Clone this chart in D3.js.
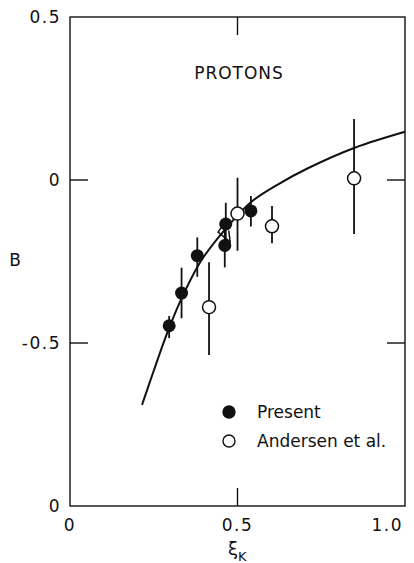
<!DOCTYPE html>
<html>
<head>
<meta charset="utf-8">
<script src="https://cdn.jsdelivr.net/npm/d3@7/dist/d3.min.js"></script>
<style>
  html, body { margin: 0; padding: 0; background: #fff; }
  svg { display: block; }
  text { font-family: "DejaVu Sans", sans-serif; fill: #111; }
</style>
</head>
<body>
<svg id="chart" width="414" height="563"></svg>
<script>
// Present measurements (filled circles)
const presentXi   = [0.296, 0.333, 0.380, 0.465, 0.462, 0.540];
const presentB    = [-0.447, -0.347, -0.232, -0.135, -0.201, -0.095];
const presentLow  = [-0.485, -0.424, -0.297, -0.200, -0.268, -0.143];
const presentHigh = [-0.417, -0.269, -0.176, -0.070, -0.135, -0.049];

// Andersen et al. (open circles)
const andersenXi   = [0.415, 0.500, 0.603, 0.848];
const andersenB    = [-0.390, -0.103, -0.142, 0.005];
const andersenLow  = [-0.537, -0.217, -0.194, -0.166];
const andersenHigh = [-0.252, 0.007, -0.080, 0.187];

// Theoretical curve
const curveXi = [0.215, 0.25, 0.29, 0.33, 0.39, 0.46, 0.54, 0.62, 0.71, 0.85, 1.0];
const curveB  = [-0.69, -0.585, -0.47, -0.37, -0.25, -0.155, -0.068, -0.014, 0.036, 0.099, 0.148];

// Small bracket drawn between the two points near xi = 0.46
const bracketXi = [0.455, 0.442, 0.478, 0.474];
const bracketB  = [-0.140, -0.160, -0.190, -0.155];

// Axis ticks and labels
const yTicks = [0.5, 0, -0.5, -1.0];
const yTickLabels = ["0.5", "0", "-0.5", "0"];
const xTicks = [0, 0.5, 1.0];
const xTickLabels = ["0", "0.5", "1.0"];

const svg = d3.select("#chart");
const plotLeft = 70, plotRight = 405, plotTop = 17, plotBottom = 506;

const x = d3.scaleLinear().domain([0, 1]).range([plotLeft, plotRight]);
const y = d3.scaleLinear().domain([-1, 0.5]).range([plotBottom, plotTop]);

// frame
svg.append("rect")
  .attr("x", plotLeft).attr("y", plotTop)
  .attr("width", plotRight - plotLeft).attr("height", plotBottom - plotTop)
  .attr("fill", "none").attr("stroke", "#111").attr("stroke-width", 1.4);

// inward ticks
const tickLen = 18;
const g = svg.append("g").attr("stroke", "#111").attr("stroke-width", 1.4);
[0, -0.5].forEach(v => {
  g.append("line").attr("x1", x(0)).attr("x2", x(0) + tickLen).attr("y1", y(v)).attr("y2", y(v));
  g.append("line").attr("x1", x(1)).attr("x2", x(1) - tickLen).attr("y1", y(v)).attr("y2", y(v));
});
g.append("line").attr("x1", x(0.5)).attr("x2", x(0.5)).attr("y1", y(0.5)).attr("y2", y(0.5) + tickLen);
g.append("line").attr("x1", x(0.5)).attr("x2", x(0.5)).attr("y1", y(-1)).attr("y2", y(-1) - tickLen);

// y tick labels
yTicks.forEach((v, i) => {
  svg.append("text")
    .attr("x", plotLeft - 9).attr("y", y(v))
    .attr("dy", "0.36em")
    .attr("text-anchor", "end")
    .attr("font-size", 17)
    .attr("letter-spacing", 1.5)
    .text(yTickLabels[i]);
});

// x tick labels
xTicks.forEach((v, i) => {
  const t = svg.append("text")
    .attr("y", plotBottom + 25)
    .attr("font-size", 17)
    .attr("letter-spacing", 1.5)
    .text(xTickLabels[i]);
  if (v === 1.0) t.attr("x", x(v) - 2).attr("text-anchor", "end");
  else t.attr("x", x(v)).attr("text-anchor", "middle");
});

// axis titles
svg.append("text").attr("x", 15).attr("y", 260).attr("dy", "0.36em")
  .attr("text-anchor", "middle").attr("font-size", 17).text("B");
const xt = svg.append("text").attr("x", 228).attr("y", 555).attr("font-size", 18);
xt.append("tspan").text("ξ");
xt.append("tspan").attr("dy", 6).attr("font-size", 13).text("K");

// panel label
svg.append("text").attr("x", 239).attr("y", 79)
  .attr("text-anchor", "middle").attr("font-size", 17)
  .attr("letter-spacing", 1).text("PROTONS");

// curve
const line = d3.line().x(d => x(d[0])).y(d => y(d[1])).curve(d3.curveCatmullRom.alpha(0.5));
svg.append("path")
  .datum(d3.zip(curveXi, curveB))
  .attr("d", line)
  .attr("fill", "none").attr("stroke", "#111").attr("stroke-width", 2);

// bracket
svg.append("path")
  .datum(d3.zip(bracketXi, bracketB))
  .attr("d", d3.line().x(d => x(d[0])).y(d => y(d[1])))
  .attr("fill", "none").attr("stroke", "#111").attr("stroke-width", 1.5);

// error bars
function errorBars(xs, lo, hi) {
  svg.append("g").selectAll("line")
    .data(d3.range(xs.length))
    .join("line")
    .attr("x1", i => x(xs[i])).attr("x2", i => x(xs[i]))
    .attr("y1", i => y(hi[i])).attr("y2", i => y(lo[i]))
    .attr("stroke", "#111").attr("stroke-width", 1.8);
}
errorBars(presentXi, presentLow, presentHigh);
errorBars(andersenXi, andersenLow, andersenHigh);

// markers
const r = 6.5;
svg.append("g").selectAll("circle")
  .data(d3.zip(andersenXi, andersenB))
  .join("circle")
  .attr("cx", d => x(d[0])).attr("cy", d => y(d[1])).attr("r", r)
  .attr("fill", "#fff").attr("stroke", "#111").attr("stroke-width", 1.5);
svg.append("g").selectAll("circle")
  .data(d3.zip(presentXi, presentB))
  .join("circle")
  .attr("cx", d => x(d[0])).attr("cy", d => y(d[1])).attr("r", r)
  .attr("fill", "#111");

// legend
const legendItems = [
  { label: "Present", filled: true, yy: 412 },
  { label: "Andersen et al.", filled: false, yy: 441 }
];
legendItems.forEach(item => {
  svg.append("circle").attr("cx", 229).attr("cy", item.yy).attr("r", 6)
    .attr("fill", item.filled ? "#111" : "#fff")
    .attr("stroke", "#111").attr("stroke-width", 1.4);
  svg.append("text").attr("x", 257).attr("y", item.yy).attr("dy", "0.36em")
    .attr("font-size", 17).text(item.label);
});
</script>
</body>
</html>
